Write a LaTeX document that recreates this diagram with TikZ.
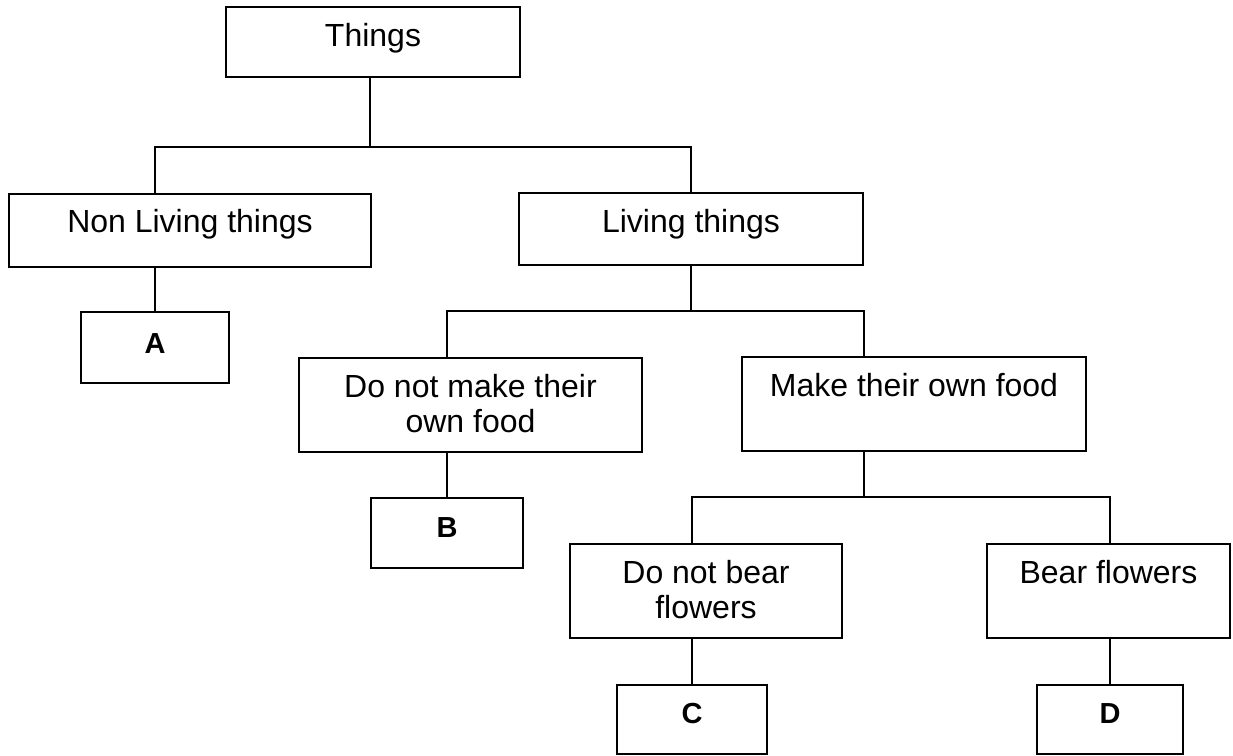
\documentclass[tikz,border=0pt]{standalone}
\usepackage{fontspec}
\setmainfont{Liberation Sans}
\begin{document}
\begin{tikzpicture}[x=1pt,y=-1pt,
  box/.style={draw,line width=1.8pt,rectangle,inner sep=0pt},
  txt/.style={inner sep=0pt,anchor=base,font=\fontsize{32}{35}\selectfont},
  letter/.style={inner sep=0pt,anchor=base,font=\fontsize{29}{32}\selectfont\bfseries},
  conn/.style={line width=1.8pt}]
\useasboundingbox[fill=white] (0,0) rectangle (1233,755);
% boxes
\node[box,minimum width=294pt,minimum height=70pt] (things) at (373,42) {};
\node[box,minimum width=362pt,minimum height=73pt] (nonliving) at (190,230.5) {};
\node[box,minimum width=344pt,minimum height=72pt] (living) at (691,229) {};
\node[box,minimum width=148pt,minimum height=71pt] (a) at (155,347.5) {};
\node[box,minimum width=343pt,minimum height=94pt] (dnm) at (470.5,405) {};
\node[box,minimum width=344pt,minimum height=94pt] (make) at (914,404) {};
\node[box,minimum width=152pt,minimum height=70pt] (bb) at (447,533) {};
\node[box,minimum width=272pt,minimum height=94pt] (dnb) at (706,591) {};
\node[box,minimum width=243pt,minimum height=94pt] (bf) at (1108.5,591) {};
\node[box,minimum width=150pt,minimum height=69pt] (cc) at (692,719.5) {};
\node[box,minimum width=146pt,minimum height=69pt] (dd) at (1110,719.5) {};
% texts
\node[txt] (tThings) at (373,46) {Things};
\node[txt] (tNonLiving) at (190,232) {Non Living things};
\node[txt] (tLiving) at (691,232) {Living things};
\node[letter] (tA) at (155,353) {A};
\node[txt] (tDnm1) at (470.5,397) {Do not make their};
\node[txt] (tDnm2) at (470.5,432) {own food};
\node[txt] (tMake) at (914,396) {Make their own food};
\node[letter] (tB) at (447,537) {B};
\node[txt] (tDnb1) at (706,583) {Do not bear};
\node[txt] (tDnb2) at (706,618) {flowers};
\node[txt] (tBf) at (1108.5,583) {Bear flowers};
\node[letter] (tC) at (692,723) {C};
\node[letter] (tD) at (1110,723) {D};
% junctions
\coordinate (b1) at (370,147);
\coordinate (b2) at (691,311);
\coordinate (b3) at (864,497);
% connectors
\draw[conn] (things.south -| b1) -- (b1);
\draw[conn] (nonliving.north -| a) |- (b1) -| (living.north);
\draw[conn] (nonliving.south -| a) -- (a.north);
\draw[conn] (living.south) -- (living.south |- b2);
\draw[conn] (dnm.north -| bb) |- (b2) -| (make.north -| b3);
\draw[conn] (dnm.south -| bb) -- (bb.north);
\draw[conn] (make.south -| b3) -- (b3);
\draw[conn] (dnb.north -| cc) |- (b3) -| (bf.north -| dd);
\draw[conn] (dnb.south -| cc) -- (cc.north);
\draw[conn] (bf.south -| dd) -- (dd.north);
\end{tikzpicture}
\end{document}
